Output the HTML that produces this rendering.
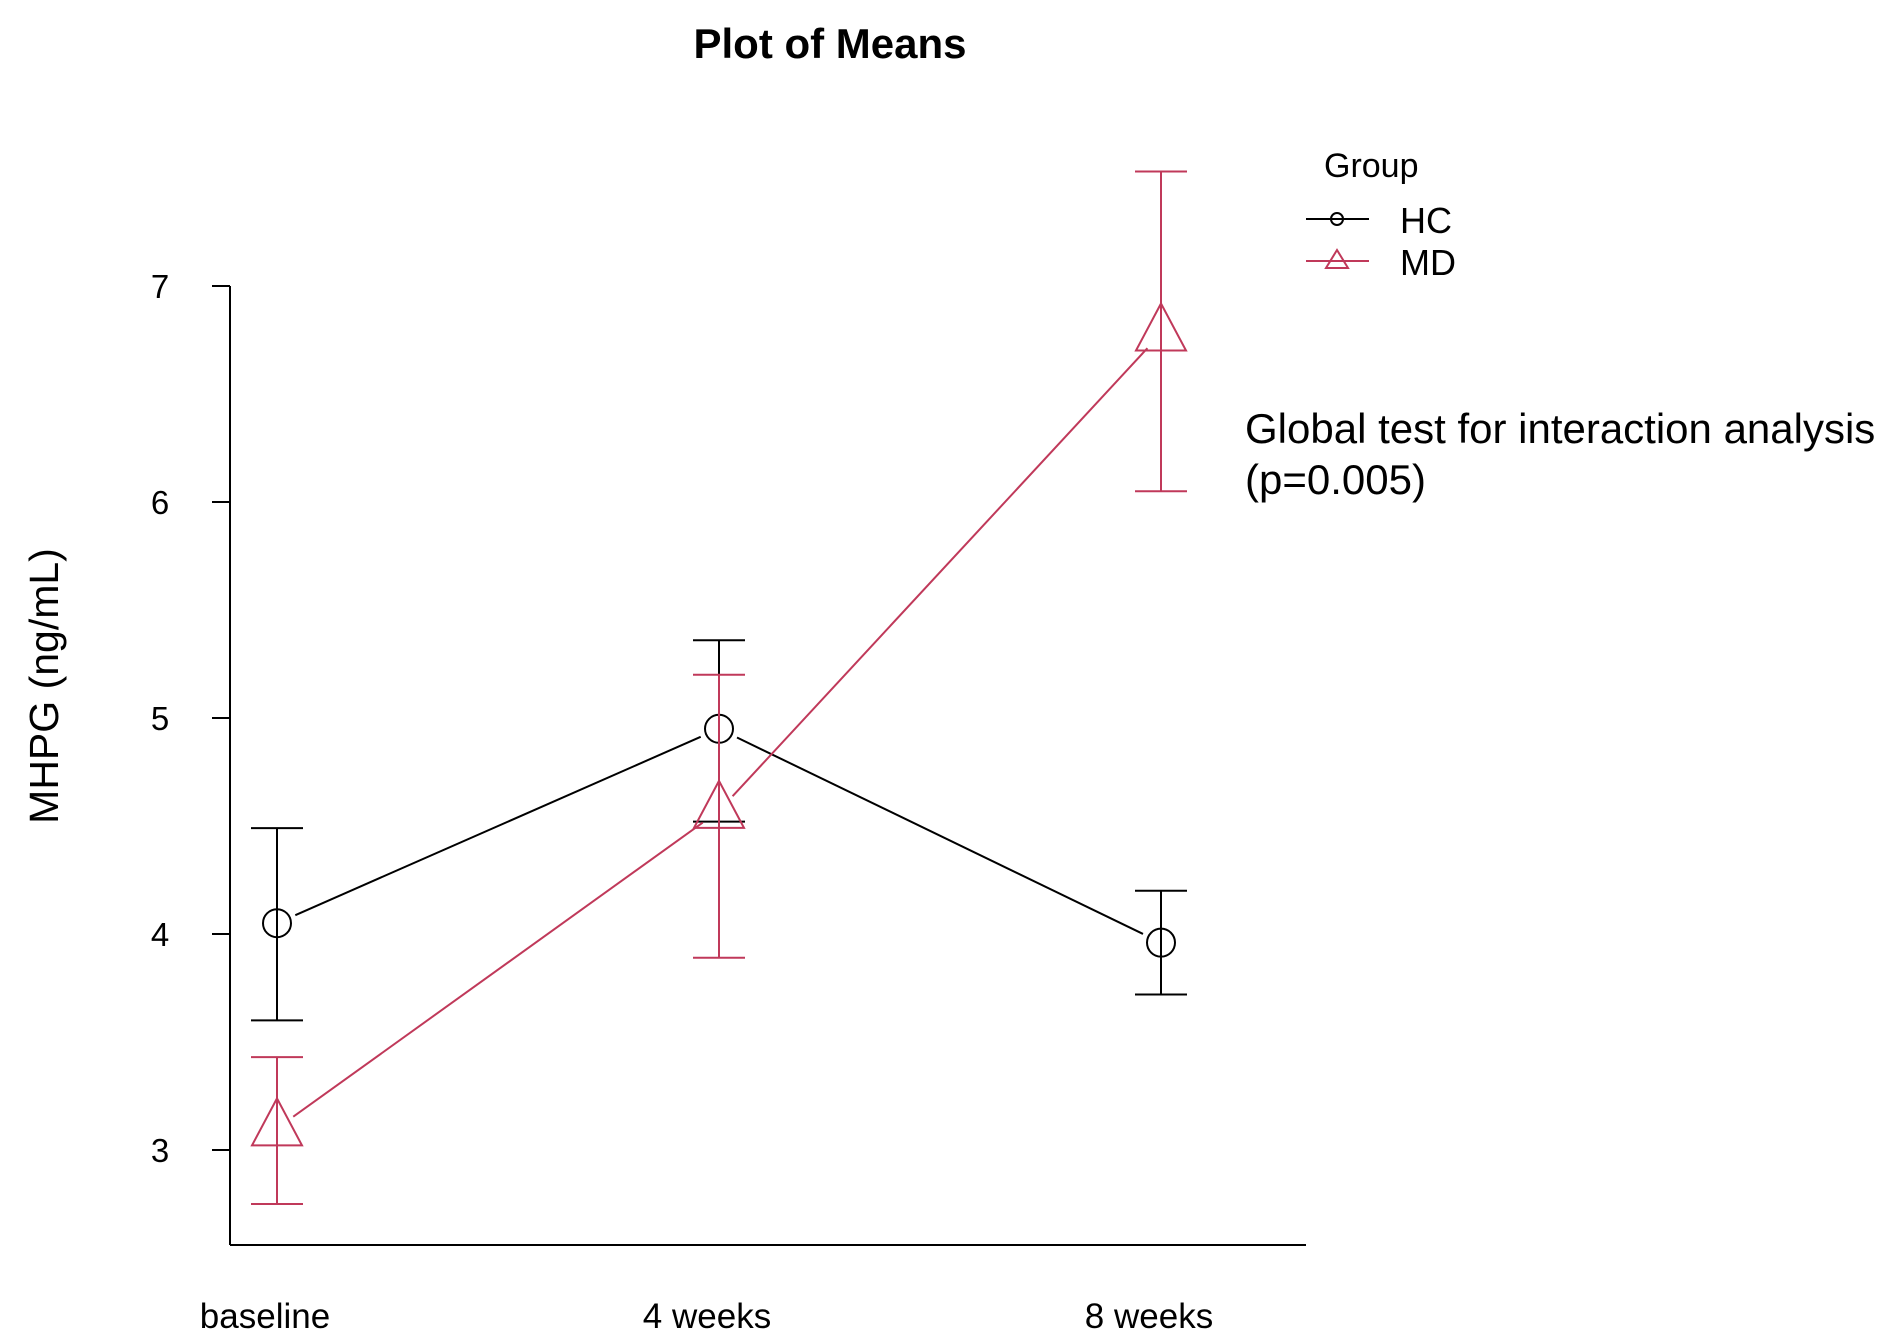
<!DOCTYPE html>
<html><head><meta charset="utf-8"><style>
html,body{margin:0;padding:0;background:#fff;}
svg{display:block;font-family:"Liberation Sans",Arial,sans-serif;}
</style></head><body>
<svg id="chart" width="1887" height="1340" viewBox="0 0 1887 1340">
<text x="830" y="58" text-anchor="middle" font-size="42" font-weight="bold">Plot of Means</text>
<text transform="translate(58,686) rotate(-90)" text-anchor="middle" font-size="41">MHPG (ng/mL)</text>
<g id="axes"></g>
<g id="series"></g>
<g>
<text x="1324" y="177" font-size="34">Group</text>
<g>
<line x1="1306" y1="219" x2="1369" y2="219" stroke="#000" stroke-width="2"/>
<circle cx="1337" cy="219" r="6" fill="none" stroke="#000" stroke-width="2"/>
<text x="1400" y="233" font-size="36">HC</text></g>
<g>
<line x1="1306" y1="261" x2="1369" y2="261" stroke="#c0395a" stroke-width="2"/>
<polygon points="1337,250 1326,268 1348,268" fill="none" stroke="#c0395a" stroke-width="2"/>
<text x="1400" y="275" font-size="36">MD</text></g>
</g>
<text x="1245" y="443" font-size="42">Global test for interaction analysis</text>
<text x="1245" y="494" font-size="42">(p=0.005)</text>
</svg>
<script>
const categories=["baseline","4 weeks","8 weeks"];
const yTicks=[3,4,5,6,7];
const hcMean=[4.05,4.95,3.96];
const hcLow=[3.6,4.52,3.72];
const hcHigh=[4.49,5.36,4.2];
const mdMean=[3.1,4.57,6.78];
const mdLow=[2.75,3.89,6.05];
const mdHigh=[3.43,5.2,7.53];

const NS="http://www.w3.org/2000/svg";
function xs(i){return 277+i*442;}
function ys(v){return 1150-(v-3)*216;}
function mk(tag,attrs,parent){const e=document.createElementNS(NS,tag);for(const k in attrs)e.setAttribute(k,attrs[k]);parent.appendChild(e);return e;}
const axes=document.getElementById('axes');
const yl=mk('line',{x1:230,y1:ys(7),x2:230,y2:1245,stroke:'#000','stroke-width':2},axes);


const xl=mk('line',{x1:230,y1:1245,x2:1306,y2:1245,stroke:'#000','stroke-width':2},axes);


yTicks.forEach(t=>{
  mk('line',{x1:212,y1:ys(t),x2:230,y2:ys(t),stroke:'#000','stroke-width':2},axes);
  const tx=mk('text',{x:160,y:ys(t)+12,'text-anchor':'middle','font-size':33},axes);
  tx.textContent=t;
  
  
});
categories.forEach((c,i)=>{
  const tx=mk('text',{x:xs(i)-12,y:1328,'text-anchor':'middle','font-size':35},axes);
  tx.textContent=c;
  
  
});
const ser=document.getElementById('series');
function drawSeries(name,mean,lo,hi,color,shape){
  const g=mk('g',{},ser);
  
  
  const pts=mean.map((v,i)=>[xs(i),ys(v)]);
  for(let i=0;i<pts.length-1;i++){
    const [x1,y1]=pts[i],[x2,y2]=pts[i+1];
    const d=Math.hypot(x2-x1,y2-y1),ux=(x2-x1)/d,uy=(y2-y1)/d,g0=20;
    mk('line',{x1:x1+ux*g0,y1:y1+uy*g0,x2:x2-ux*g0,y2:y2-uy*g0,stroke:color,'stroke-width':2},g);
  }
  mean.forEach((v,i)=>{
    const x=xs(i);
    const eb=mk('g',{stroke:color,'stroke-width':2,fill:'none'},g);
    
    
    mk('line',{x1:x,y1:ys(lo[i]),x2:x,y2:ys(hi[i])},eb);
    mk('line',{x1:x-26,y1:ys(lo[i]),x2:x+26,y2:ys(lo[i])},eb);
    mk('line',{x1:x-26,y1:ys(hi[i]),x2:x+26,y2:ys(hi[i])},eb);
    let m;
    if(shape==='circle') m=mk('circle',{cx:x,cy:ys(v),r:14,fill:'none',stroke:color,'stroke-width':2},g);
    else {const y=ys(v);m=mk('polygon',{points:`${x},${y-30} ${x-25},${y+17} ${x+25},${y+17}`,fill:'none',stroke:color,'stroke-width':2},g);}
    
    
  });
}
drawSeries('hc',hcMean,hcLow,hcHigh,'#000','circle');
drawSeries('md',mdMean,mdLow,mdHigh,'#c0395a','triangle');
</script>
</body></html>
